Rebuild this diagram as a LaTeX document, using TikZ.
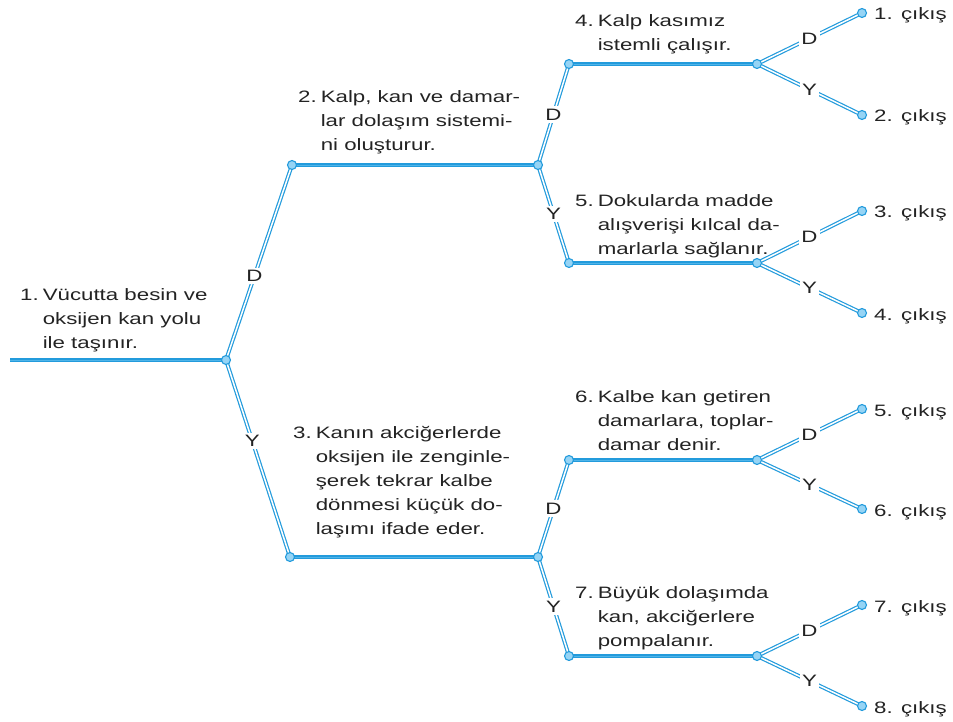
\documentclass[tikz,border=0pt]{standalone}
\usepackage{fontspec}
\setmainfont{Liberation Sans}[FakeStretch=1.35]
\usetikzlibrary{calc}
\definecolor{lnblue}{RGB}{35,155,220}
\definecolor{lnlight}{RGB}{80,180,232}
\definecolor{lnfill}{RGB}{150,212,245}
\definecolor{txtgray}{RGB}{35,35,35}
\newcommand\blk[2]{\begin{tabular}[t]{@{}l@{\hspace{4pt}}l@{}}#1&#2\end{tabular}}
\begin{document}
\begin{tikzpicture}[x=1pt,y=1pt,
  hline/.style={draw=lnblue, line width=1.9pt, double=lnlight, double distance=0.8pt},
  dline/.style={draw=lnblue, line width=1.2pt, double=white, double distance=1.5pt},
  jn/.style={circle, draw=lnblue, fill=lnfill, line width=1.1pt, inner sep=0pt, minimum size=9pt},
  lab/.style={fill=white, inner sep=2.5pt, text=txtgray, font=\fontsize{16.5}{24}\selectfont},
  txt/.style={anchor=base west, inner sep=0pt, text=txtgray, font=\fontsize{16.5}{24}\selectfont},
]
\useasboundingbox (0,0) rectangle (953,-722);
% coordinates
\coordinate (s) at (10,-360);
\coordinate (j1) at (226,-360);
\coordinate (j2) at (292,-165);
\coordinate (j2r) at (538,-165);
\coordinate (j3) at (290,-557);
\coordinate (j3r) at (538,-557);
\coordinate (j4) at (569,-64);
\coordinate (j4r) at (757,-64);
\coordinate (j5) at (569,-263);
\coordinate (j5r) at (757,-263);
\coordinate (j6) at (569,-460);
\coordinate (j6r) at (757,-460);
\coordinate (j7) at (569,-656);
\coordinate (j7r) at (757,-656);
\coordinate (l1) at (862,-13);
\coordinate (l2) at (862,-115);
\coordinate (l3) at (862,-211);
\coordinate (l4) at (862,-313);
\coordinate (l5) at (862,-409);
\coordinate (l6) at (862,-509);
\coordinate (l7) at (862,-605);
\coordinate (l8) at (862,-706);
% horizontal lines
\draw[hline] (s) -- (j1);
\draw[hline] (j2) -- (j2r);
\draw[hline] (j3) -- (j3r);
\draw[hline] (j4) -- (j4r);
\draw[hline] (j5) -- (j5r);
\draw[hline] (j6) -- (j6r);
\draw[hline] (j7) -- (j7r);
% diagonal lines
\draw[dline] (j1) -- node[lab,pos=.43]{D} (j2);
\draw[dline] (j1) -- node[lab,pos=.41]{Y} (j3);
\draw[dline] (j2r) -- node[lab,pos=.5]{D} (j4);
\draw[dline] (j2r) -- node[lab,pos=.5]{Y} (j5);
\draw[dline] (j3r) -- node[lab,pos=.5]{D} (j6);
\draw[dline] (j3r) -- node[lab,pos=.5]{Y} (j7);
\draw[dline] (j4r) -- node[lab,pos=.5]{D} (l1);
\draw[dline] (j4r) -- node[lab,pos=.5]{Y} (l2);
\draw[dline] (j5r) -- node[lab,pos=.5]{D} (l3);
\draw[dline] (j5r) -- node[lab,pos=.5]{Y} (l4);
\draw[dline] (j6r) -- node[lab,pos=.5]{D} (l5);
\draw[dline] (j6r) -- node[lab,pos=.5]{Y} (l6);
\draw[dline] (j7r) -- node[lab,pos=.5]{D} (l7);
\draw[dline] (j7r) -- node[lab,pos=.5]{Y} (l8);
% junction circles
\foreach \c in {j1,j2,j2r,j3,j3r,j4,j4r,j5,j5r,j6,j6r,j7,j7r,l1,l2,l3,l4,l5,l6,l7,l8}
  \node[jn] (c\c) at (\c) {};
% texts
\node[txt] (t1) at (20,-300) {\blk{1.}{Vücutta besin ve\\&oksijen kan yolu\\&ile taşınır.}};
\node[txt] (t2) at (298,-103) {\blk{2.}{Kalp, kan ve damar-\\&lar dolaşım sistemi-\\&ni oluşturur.}};
\node[txt] (t3) at (293,-438) {\blk{3.}{Kanın akciğerlerde\\&oksijen ile zenginle-\\&şerek tekrar kalbe\\&dönmesi küçük do-\\&laşımı ifade eder.}};
\node[txt] (t4) at (575,-27) {\blk{4.}{Kalp kasımız\\&istemli çalışır.}};
\node[txt] (t5) at (575,-207) {\blk{5.}{Dokularda madde\\&alışverişi kılcal da-\\&marlarla sağlanır.}};
\node[txt] (t6) at (575,-402) {\blk{6.}{Kalbe kan getiren\\&damarlara, toplar-\\&damar denir.}};
\node[txt] (t7) at (575,-598) {\blk{7.}{Büyük dolaşımda\\&kan, akciğerlere\\&pompalanır.}};
% outputs
\node[txt] (o1) at ($(l1)+(12,-7)$) {1. çıkış};
\node[txt] (o2) at ($(l2)+(12,-7)$) {2. çıkış};
\node[txt] (o3) at ($(l3)+(12,-7)$) {3. çıkış};
\node[txt] (o4) at ($(l4)+(12,-7)$) {4. çıkış};
\node[txt] (o5) at ($(l5)+(12,-7)$) {5. çıkış};
\node[txt] (o6) at ($(l6)+(12,-7)$) {6. çıkış};
\node[txt] (o7) at ($(l7)+(12,-7)$) {7. çıkış};
\node[txt] (o8) at ($(l8)+(12,-7)$) {8. çıkış};
\end{tikzpicture}
\end{document}
